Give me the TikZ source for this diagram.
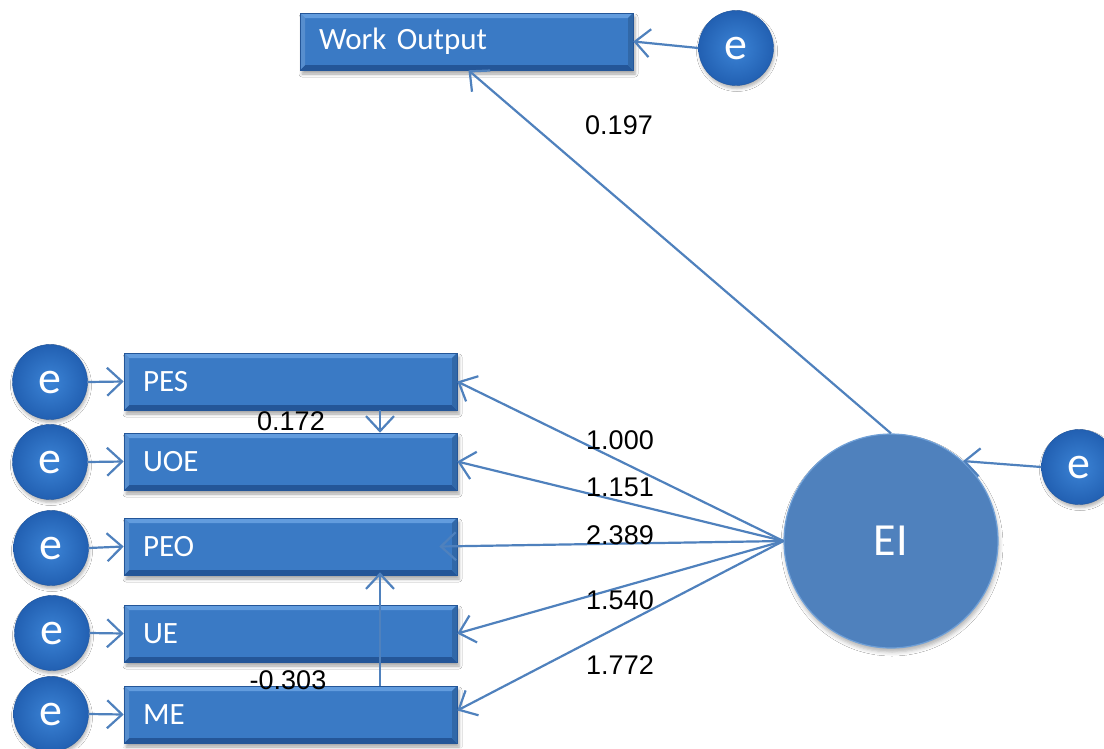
\documentclass[tikz,border=0pt]{standalone}
\usepackage{fontspec}
\setmainfont{Carlito}
\newfontfamily\numfont{Liberation Sans}
\usetikzlibrary{arrows.meta,shadows.blur}

\definecolor{boxmain}{RGB}{58,122,197}
\definecolor{boxlight}{RGB}{98,156,222}
\definecolor{boxdark}{RGB}{36,86,152}
\definecolor{linkblue}{RGB}{79,129,189}
\definecolor{errin}{RGB}{60,132,214}
\definecolor{errout}{RGB}{34,96,178}
\definecolor{latfill}{RGB}{79,129,189}
\definecolor{latrim}{RGB}{112,160,215}

\tikzset{
  varbox/.style={
    rectangle, minimum height=57pt, text width=295pt, inner xsep=19pt,
    align=left, text=white, font=\fontsize{31}{35}\selectfont,
    fill=boxmain, draw=boxdark, line width=0.6pt,
    blur shadow={shadow xshift=2pt, shadow yshift=-4pt, shadow opacity=35, shadow blur radius=3pt},
    path picture={
      \fill[boxlight] (path picture bounding box.north west) -- (path picture bounding box.north east)
        -- ([xshift=-5pt,yshift=-5pt]path picture bounding box.north east)
        -- ([xshift=5pt,yshift=-5pt]path picture bounding box.north west) -- cycle;
      \fill[boxdark] (path picture bounding box.south west) -- (path picture bounding box.south east)
        -- ([xshift=-5pt,yshift=5pt]path picture bounding box.south east)
        -- ([xshift=5pt,yshift=5pt]path picture bounding box.south west) -- cycle;
      \fill[boxmain!85!black] (path picture bounding box.north east) -- (path picture bounding box.south east)
        -- ([xshift=-5pt,yshift=5pt]path picture bounding box.south east)
        -- ([xshift=-5pt,yshift=-5pt]path picture bounding box.north east) -- cycle;
      \fill[boxmain!85!white] (path picture bounding box.north west) -- (path picture bounding box.south west)
        -- ([xshift=5pt,yshift=5pt]path picture bounding box.south west)
        -- ([xshift=5pt,yshift=-5pt]path picture bounding box.north west) -- cycle;
    }},
  errnode/.style={
    circle, minimum size=75pt, inner sep=0pt, text=white,
    font=\fontsize{46}{46}\selectfont,
    inner color=errin, outer color=errout, draw=errout!90!black, line width=0.4pt,
    blur shadow={shadow xshift=1pt, shadow yshift=-3pt, shadow opacity=30, shadow blur radius=3pt}},
  latnode/.style={
    circle, minimum size=214pt, inner sep=0pt, text=white,
    font=\fontsize{46}{46}\selectfont,
    fill=latfill, draw=latrim, line width=1.2pt,
    blur shadow={shadow xshift=1pt, shadow yshift=-4pt, shadow opacity=30, shadow blur radius=4pt}},
  link/.style={draw=linkblue, line width=2.2pt,
    -{Straight Barb[length=15pt,width=28pt,line width=2.2pt]}},
  coef/.style={font=\numfont\fontsize{27}{27}\selectfont, text=black, inner sep=0pt},
}

\begin{document}
\begin{tikzpicture}[x=1pt,y=-1pt]
  \useasboundingbox[fill=white] (0,0) rectangle (1104,748);

  % observed variables
  \node[varbox] (wo)  at (466.5,41.5)  {Work Output};
  \node[varbox] (pes) at (290.5,381.5) {PES};
  \node[varbox] (uoe) at (290.5,461.5) {UOE};
  \node[varbox] (peo) at (290.5,546.5) {PEO};
  \node[varbox] (ue)  at (290.5,633.5) {UE};
  \node[varbox] (me)  at (290.5,714.5) {ME};

  % latent variable
  \node[latnode] (ei) at (891,541) {EI};

  % error terms
  \node[errnode] (ewo) at (736,48)  {e};
  \node[errnode] (eei) at (1079,467) {e};
  \node[errnode] (e1)  at (50,382)  {e};
  \node[errnode] (e2)  at (50,462)  {e};
  \node[errnode] (e3)  at (51,548)  {e};
  \node[errnode] (e4)  at (52,633)  {e};
  \node[errnode] (e5)  at (51,714)  {e};

  \coordinate (vx) at (380,0);

  % paths
  \draw[link] (ewo.west) -- (wo.east);
  \draw[link] (ei.north) -- ([xshift=2pt]wo.south);
  \draw[link] (eei.west) -- (ei.48);

  \draw[link] (ei.west) -- (pes.east);
  \draw[link] (ei.west) -- (uoe.east);
  \draw[link] (ei.west) -- ([xshift=-18pt]peo.east);
  \draw[link] (ei.west) -- (ue.east);
  \draw[link] (ei.west) -- ([yshift=4pt]me.east);

  \draw[link] (e1.east) -- (pes.west);
  \draw[link] (e2.east) -- (uoe.west);
  \draw[link] (e3.east) -- (peo.west);
  \draw[link] (e4.east) -- (ue.west);
  \draw[link] (e5.east) -- (me.west);

  \draw[link] (pes.south -| vx) -- (uoe.north -| vx);
  \draw[link] (me.north -| vx) -- ([yshift=3pt]peo.south -| vx);

  % coefficients
  \node[coef] (c0) at (619,125) {0.197};
  \node[coef] (c1) at (620,440) {1.000};
  \node[coef] (c2) at (620,487) {1.151};
  \node[coef] (c3) at (620,535) {2.389};
  \node[coef] (c4) at (620,600) {1.540};
  \node[coef] (c5) at (620,665) {1.772};
  \node[coef] (c6) at (291,421) {0.172};
  \node[coef] (c7) at (288,680) {-0.303};
\end{tikzpicture}
\end{document}
